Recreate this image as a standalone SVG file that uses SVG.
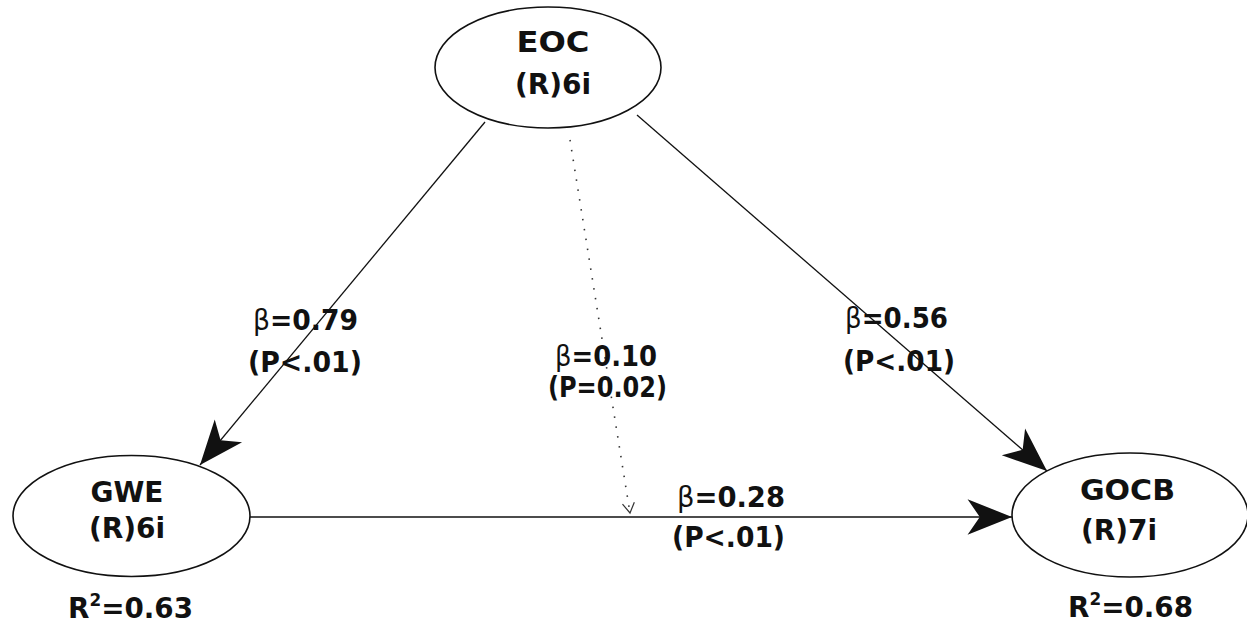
<svg xmlns="http://www.w3.org/2000/svg" width="1247" height="626" viewBox="0 0 1247 626">
<style>
.node{fill:#fff;stroke:#111;stroke-width:1.6}
.t{font-family:"DejaVu Sans","Liberation Sans",sans-serif;font-weight:bold;font-size:28px;fill:#111;text-anchor:middle}
.b{font-weight:normal}
.edge{stroke:#111;stroke-width:1.3;fill:none}
.dot{stroke:#333;stroke-width:1.6;fill:none;stroke-dasharray:1.5 8.5}
</style>
<defs>
<marker id="dart" markerUnits="userSpaceOnUse" markerWidth="50" markerHeight="40" viewBox="-42 -18 44 36" refX="0" refY="0" orient="auto">
<path d="M0,0 L-40,-16 L-29,0 L-40,16 Z" fill="#111"/>
</marker>
<marker id="vee" markerUnits="userSpaceOnUse" markerWidth="16" markerHeight="16" viewBox="-12 -8 14 16" refX="0" refY="0" orient="auto">
<path d="M-10,-6 L0,0 L-10,6" fill="none" stroke="#333" stroke-width="1.2"/>
</marker>
</defs>
<rect width="1247" height="626" fill="#fff"/>
<g id="connectors">
<line class="edge" x1="485" y1="122" x2="200" y2="465" marker-end="url(#dart)"/>
<line class="edge" x1="637" y1="115" x2="1047" y2="471" marker-end="url(#dart)"/>
<line class="edge" x1="250" y1="517" x2="1012" y2="517" marker-end="url(#dart)"/>
<line class="dot" x1="570" y1="140" x2="630" y2="513" marker-end="url(#vee)"/>
<text class="t" x="305.5" y="330" textLength="105" lengthAdjust="spacingAndGlyphs"><tspan class="b">β</tspan>=0.79</text>
<text class="t" x="305" y="372" textLength="114" lengthAdjust="spacingAndGlyphs">(P&lt;.01)</text>
<text class="t" x="606" y="366" textLength="102" lengthAdjust="spacingAndGlyphs"><tspan class="b">β</tspan>=0.10</text>
<text class="t" x="607.5" y="397" textLength="119" lengthAdjust="spacingAndGlyphs">(P=0.02)</text>
<text class="t" x="896.5" y="328" textLength="103" lengthAdjust="spacingAndGlyphs"><tspan class="b">β</tspan>=0.56</text>
<text class="t" x="899" y="371" textLength="112" lengthAdjust="spacingAndGlyphs">(P&lt;.01)</text>
<text class="t" x="731" y="507" textLength="108" lengthAdjust="spacingAndGlyphs"><tspan class="b">β</tspan>=0.28</text>
<text class="t" x="728.5" y="547" textLength="113" lengthAdjust="spacingAndGlyphs">(P&lt;.01)</text>
</g>
<g id="EOC">
<ellipse class="node" cx="548" cy="67.5" rx="113" ry="60.5"/>
<text class="t" x="553" y="52" textLength="73" lengthAdjust="spacingAndGlyphs">EOC</text>
<text class="t" x="553" y="94">(R)6i</text>
</g>
<g id="GWE">
<ellipse class="node" cx="131.5" cy="516" rx="118.5" ry="60.5"/>
<text class="t" x="127" y="502">GWE</text>
<text class="t" x="127" y="538">(R)6i</text>
<text class="t" x="130.5" y="618" textLength="125" lengthAdjust="spacingAndGlyphs">R<tspan font-size="17" dy="-12">2</tspan><tspan dy="12">=0.63</tspan></text>
</g>
<g id="GOCB">
<ellipse class="node" cx="1130" cy="515" rx="118" ry="62"/>
<text class="t" x="1127.5" y="500" textLength="95" lengthAdjust="spacingAndGlyphs">GOCB</text>
<text class="t" x="1119" y="540">(R)7i</text>
<text class="t" x="1130.5" y="617" textLength="125" lengthAdjust="spacingAndGlyphs">R<tspan font-size="17" dy="-12">2</tspan><tspan dy="12">=0.68</tspan></text>
</g>
</svg>
